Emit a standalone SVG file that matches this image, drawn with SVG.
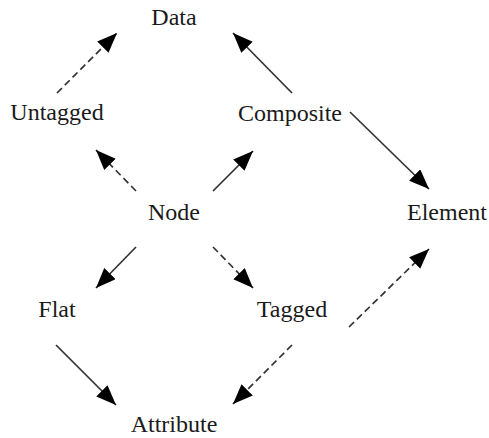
<svg xmlns="http://www.w3.org/2000/svg" width="489" height="438" viewBox="0 0 489 438">
<defs>
<marker id="ah" markerUnits="userSpaceOnUse" markerWidth="22" markerHeight="18" refX="20" refY="8" orient="auto">
<path d="M0,0 L20,8 L0,16 z" fill="#000"/>
</marker>
<style>
text{font-family:"Liberation Serif","Times New Roman",serif;font-size:24px;fill:#1a1a1a;text-anchor:middle}
.c{stroke:#333;stroke-width:1.7;fill:none;marker-end:url(#ah)}
.d{stroke-dasharray:7,4}
</style>
</defs>
<rect width="489" height="438" fill="#fff"/>
<g id="connectors">
<line class="c d" x1="57" y1="93" x2="117" y2="33"/>
<line class="c" x1="292" y1="93" x2="233" y2="33"/>
<line class="c" x1="350" y1="112" x2="429" y2="189"/>
<line class="c d" x1="136" y1="191" x2="96" y2="150"/>
<line class="c" x1="213" y1="191" x2="253" y2="151"/>
<line class="c" x1="136" y1="247" x2="96" y2="288"/>
<line class="c d" x1="213" y1="247" x2="253" y2="288"/>
<line class="c" x1="56" y1="345" x2="116" y2="405"/>
<line class="c d" x1="292" y1="345" x2="233" y2="404"/>
<line class="c d" x1="349" y1="327" x2="429" y2="249"/>
</g>
<g id="data"><text x="174" y="25">Data</text></g>
<g id="untagged"><text x="57" y="120">Untagged</text></g>
<g id="composite"><text x="290" y="121">Composite</text></g>
<g id="node"><text x="174" y="220">Node</text></g>
<g id="element"><text x="447" y="220">Element</text></g>
<g id="flat"><text x="57" y="317">Flat</text></g>
<g id="tagged"><text x="292" y="317">Tagged</text></g>
<g id="attribute"><text x="174" y="432">Attribute</text></g>
</svg>
